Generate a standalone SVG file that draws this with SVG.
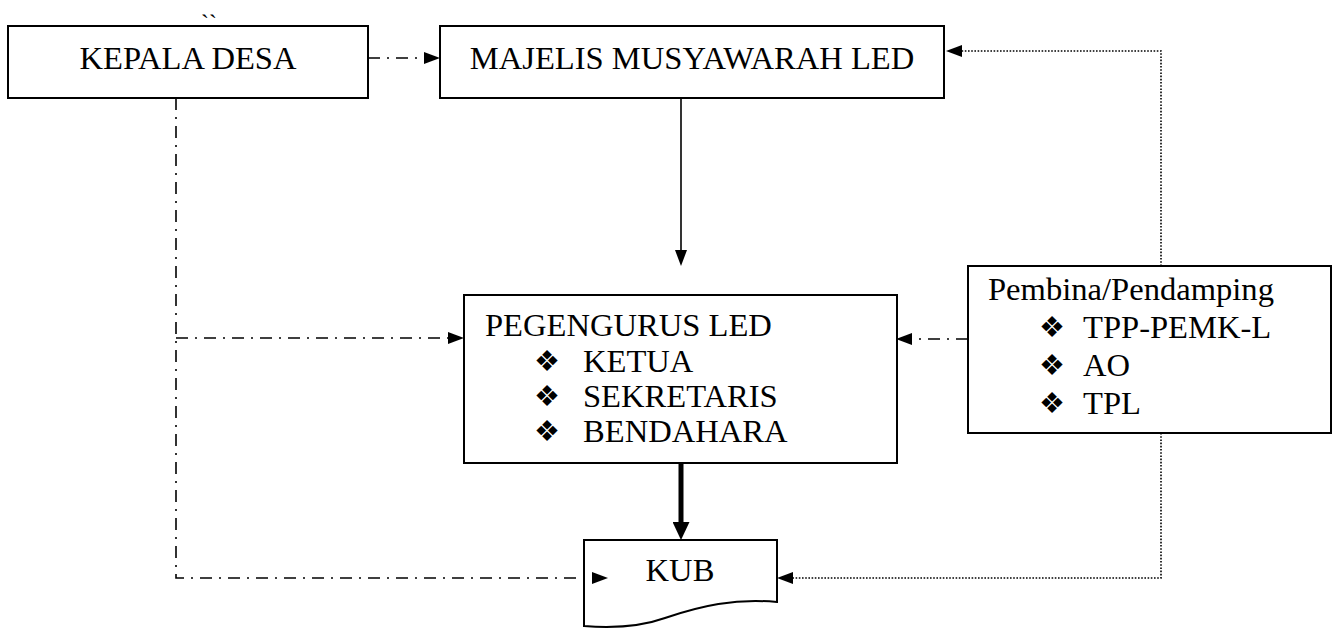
<svg xmlns="http://www.w3.org/2000/svg" width="1336" height="631" viewBox="0 0 1336 631">
<style>
.box{fill:#fff;stroke:#000;stroke-width:2}
.t{font-family:"Liberation Serif","Times New Roman",serif;font-size:32.6px;fill:#000}
.b{font-family:"DejaVu Sans",sans-serif;font-size:29px;fill:#000}
.dd{fill:none;stroke:#000;stroke-width:1.6;stroke-dasharray:12 7 2 7}
.dot{fill:none;stroke:#000;stroke-width:1.6;stroke-dasharray:1.6 1.6}
.sol{fill:none;stroke:#000;stroke-width:1.6}
.thick{fill:none;stroke:#000;stroke-width:5}
</style>
<defs>
<marker id="ah" markerUnits="userSpaceOnUse" viewBox="0 0 16 12" refX="0" refY="6" markerWidth="16" markerHeight="12" orient="auto">
<path d="M0,0 L16,6 L0,12 Z" fill="#000"/>
</marker>
<marker id="ahb" markerUnits="userSpaceOnUse" viewBox="0 0 18 17" refX="0" refY="8.5" markerWidth="18" markerHeight="17" orient="auto">
<path d="M0,0 L18,8.5 L0,17 Z" fill="#000"/>
</marker>
</defs>
<g id="kepala-desa">
<text class="t" x="201" y="31" style="font-size:24px">``</text>
<rect class="box" x="8" y="26" width="360" height="72"/>
<text class="t" x="188" y="69" text-anchor="middle">KEPALA DESA</text>
</g>
<g id="majelis">
<rect class="box" x="440" y="26" width="504" height="72"/>
<text class="t" x="692" y="69" text-anchor="middle">MAJELIS MUSYAWARAH LED</text>
</g>
<g id="pengurus">
<rect class="box" x="464" y="295" width="433" height="168"/>
<text class="t" x="485" y="336">PEGENGURUS LED</text>
<text class="b" x="534" y="371">❖</text>
<text class="t" x="583" y="372">KETUA</text>
<text class="b" x="534" y="406">❖</text>
<text class="t" x="583" y="407">SEKRETARIS</text>
<text class="b" x="534" y="441">❖</text>
<text class="t" x="583" y="442">BENDAHARA</text>
</g>
<g id="pembina">
<rect class="box" x="968" y="266" width="363" height="167"/>
<text class="t" x="988" y="300">Pembina/Pendamping</text>
<text class="b" x="1039" y="337">❖</text>
<text class="t" x="1083" y="338">TPP-PEMK-L</text>
<text class="b" x="1039" y="375">❖</text>
<text class="t" x="1083" y="376">AO</text>
<text class="b" x="1039" y="413">❖</text>
<text class="t" x="1083" y="414">TPL</text>
</g>
<g id="kub">
<path class="box" d="M584,540 H777 V602 C735,598 700,606 665,618 C640,627 610,628 584,626 Z"/>
<text class="t" x="680" y="581" text-anchor="middle">KUB</text>
</g>
<g id="connectors">
<path class="dd" d="M368,58 H424" marker-end="url(#ah)"/>
<path class="dot" d="M1161,266 V51 H962" marker-end="url(#ah)"/>
<path class="dot" d="M1161,433 V578 H793" marker-end="url(#ah)"/>
<path class="sol" d="M681,98 V250" marker-end="url(#ah)"/>
<path class="thick" d="M681,463 V522" marker-end="url(#ahb)"/>
<path class="dd" d="M968,339 H912" marker-end="url(#ah)"/>
<path class="dd" d="M176,98 V578 H592" marker-end="url(#ah)"/>
<path class="dd" d="M176,338 H448" marker-end="url(#ah)"/>
</g>
</svg>
